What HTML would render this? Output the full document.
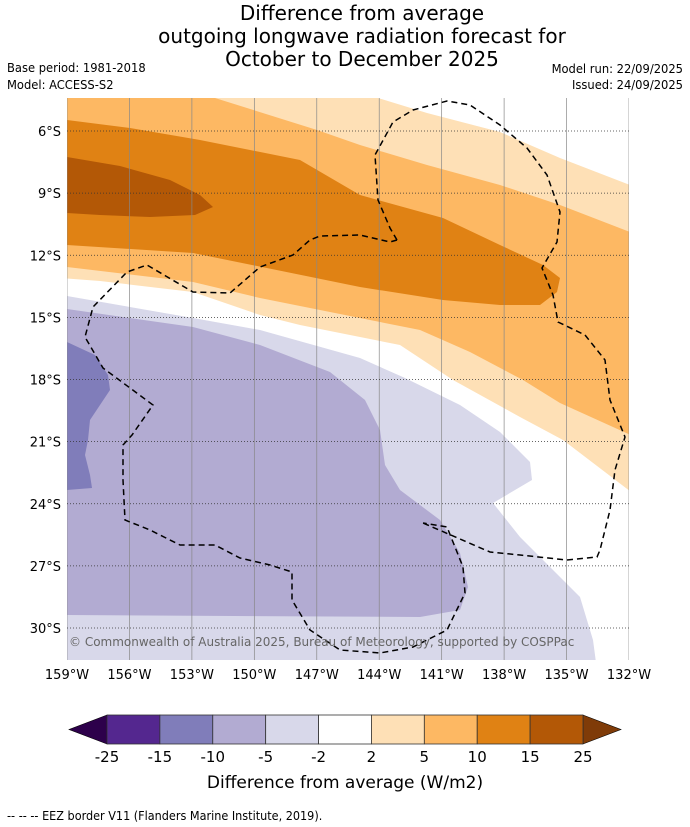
<!DOCTYPE html>
<html><head><meta charset="utf-8"><style>
body{margin:0;background:#fff;}
svg{display:block;font-family:"DejaVu Sans","Liberation Sans",sans-serif;}
.cond{font-stretch:condensed;}
</style></head><body>
<svg width="690" height="827" viewBox="0 0 690 827">
<g>
<text x="362" y="20" font-size="20" text-anchor="middle" fill="#000">Difference from average</text>
<text x="362" y="43" font-size="20" text-anchor="middle" fill="#000">outgoing longwave radiation forecast for</text>
<text x="362" y="66" font-size="20" text-anchor="middle" fill="#000">October to December 2025</text>
</g>
<text class="cond" x="7" y="72" font-size="12.8">Base period: 1981-2018</text>
<text class="cond" x="7" y="89" font-size="12.8">Model: ACCESS-S2</text>
<text class="cond" x="683" y="73" font-size="12.8" text-anchor="end">Model run: 22/09/2025</text>
<text class="cond" x="683" y="89" font-size="12.8" text-anchor="end">Issued: 24/09/2025</text>
<defs><clipPath id="mapclip"><rect x="67" y="98" width="562" height="562"/></clipPath></defs>
<g clip-path="url(#mapclip)">
<rect x="67" y="98" width="562" height="562" fill="#fff"/>
<polygon fill="#d8d8ea" points="60,296 67,296 193,318 260,330 360,358 405,378 460,405 500,432 530,462 532,480 493,503 520,537 580,597 593,640 597,670 60,670"/>
<polygon fill="#b2abd2" points="60,309 67,309 193,327 260,345 330,372 365,400 380,430 385,465 400,490 440,520 460,553 468,587 460,610 420,617 60,615"/>
<polygon fill="#807dba" points="60,342 67,342 95,355 108,375 110,390 100,405 90,420 88,440 85,455 90,475 92,488 67,490 60,490"/>
<polygon fill="#fee0b6" points="60,90 375,90 378,98 427,113 500,132 560,158 635,187 635,495 563,440 520,417 453,380 400,345 360,337 300,325 260,315 193,292 100,281 60,278"/>
<polygon fill="#fdb863" points="60,90 215,90 215,98 317,130 360,145 427,165 500,185 560,205 635,234 635,437 560,403 523,380 470,352 420,330 360,318 260,298 193,282 67,267 60,267"/>
<polygon fill="#e08214" points="60,120 67,120 130,128 200,140 300,160 360,195 443,218 500,245 543,265 560,278 557,292 540,305 500,305 443,300 360,287 193,253 67,245 60,245"/>
<polygon fill="#b35806" points="60,157 67,157 120,166 170,180 200,195 213,207 195,215 150,217 100,215 67,213 60,213"/>
<g id="grid"></g>
<polyline fill="none" stroke="#000" stroke-width="1.5" stroke-dasharray="6,4" points="397,240 390,228 378,200 375,155 393,122 413,110 447,101 470,105 500,125 527,148 547,175 560,212 557,242 542,268 553,295 558,322 585,335 605,360 610,400 625,437 615,470 610,510 600,550 597,557 567,560 520,555 490,552 423,523"/>
<polyline fill="none" stroke="#000" stroke-width="1.5" stroke-dasharray="6,4" points="397,240 390,242 360,235 320,236 310,240 293,255 260,267 230,293 193,292 147,265 127,272 93,307 85,337 103,368 153,405 132,435 123,445 123,480 125,520 150,530 180,545 215,545 240,558 270,565 292,572 292,600 310,630 340,650 380,653 413,647 447,630 465,593 463,567 447,527 423,523"/>
<text x="69" y="646" font-size="12" fill="#666">© Commonwealth of Australia 2025, Bureau of Meteorology, supported by COSPPac</text>
</g>
<g id="axes"></g>
<g id="cbar"></g>
<text x="345" y="788" font-size="17" text-anchor="middle">Difference from average (W/m2)</text>
<text class="cond" x="7" y="820" font-size="12.5">--  --  -- EEZ border V11 (Flanders Marine Institute, 2019).</text>
</svg>
<script>
const lonTicks=[-159,-156,-153,-150,-147,-144,-141,-138,-135,-132];
const lonLabels=["159°W","156°W","153°W","150°W","147°W","144°W","141°W","138°W","135°W","132°W"];
const latTicks=[-6,-9,-12,-15,-18,-21,-24,-27,-30];
const latLabels=["6°S","9°S","12°S","15°S","18°S","21°S","24°S","27°S","30°S"];
const cbarLabels=["-25","-15","-10","-5","-2","2","5","10","15","25"];
const cbarColors=["#54278f","#807dba","#b2abd2","#d8d8ea","#ffffff","#fee0b6","#fdb863","#e08214","#b35806"];
const NS="http://www.w3.org/2000/svg";
function xLon(l){return 67+(l+159)*(562/27);}
function yLat(l){return 131+(-6-l)*(497/24);}
function mk(t,a,p){const e=document.createElementNS(NS,t);for(const k in a)e.setAttribute(k,a[k]);p.appendChild(e);return e;}
const grid=document.getElementById('grid'),axes=document.getElementById('axes'),cb=document.getElementById('cbar');
lonTicks.forEach((l,i)=>{const x=xLon(l);
 const g=mk('line',{x1:x,x2:x,y1:98,y2:660,stroke:'#888','stroke-width':0.7},grid);
 
 
 const t=mk('text',{x:x,y:679,'font-size':13,'text-anchor':'middle'},axes);t.textContent=lonLabels[i];
 
 
});
latTicks.forEach((l,i)=>{const y=yLat(l);
 const g=mk('line',{x1:67,x2:629,y1:y,y2:y,stroke:'#333','stroke-width':0.7,'stroke-dasharray':'1,2'},grid);
 
 
 const t=mk('text',{x:61,y:y+5,'font-size':13,'text-anchor':'end'},axes);t.textContent=latLabels[i];
 
 
});
const cx0=107,cx1=583,cy0=715,cy1=744,bw=(cx1-cx0)/cbarColors.length;
const lt=mk('polygon',{points:`${cx0},${cy0} ${cx0},${cy1} 69,${(cy0+cy1)/2}`,fill:'#2d004b',stroke:'#000','stroke-width':0.6},cb);


const rt=mk('polygon',{points:`${cx1},${cy0} ${cx1},${cy1} 621,${(cy0+cy1)/2}`,fill:'#7f3b08',stroke:'#000','stroke-width':0.6},cb);


cbarColors.forEach((c,i)=>{const r=mk('rect',{x:cx0+i*bw,y:cy0,width:bw,height:cy1-cy0,fill:c,stroke:'#333','stroke-width':0.8},cb);
 
 });
cbarLabels.forEach((s,i)=>{const t=mk('text',{x:cx0+i*bw,y:762,'font-size':15,'text-anchor':'middle'},cb);t.textContent=s;
 
 });
</script>
</body></html>
